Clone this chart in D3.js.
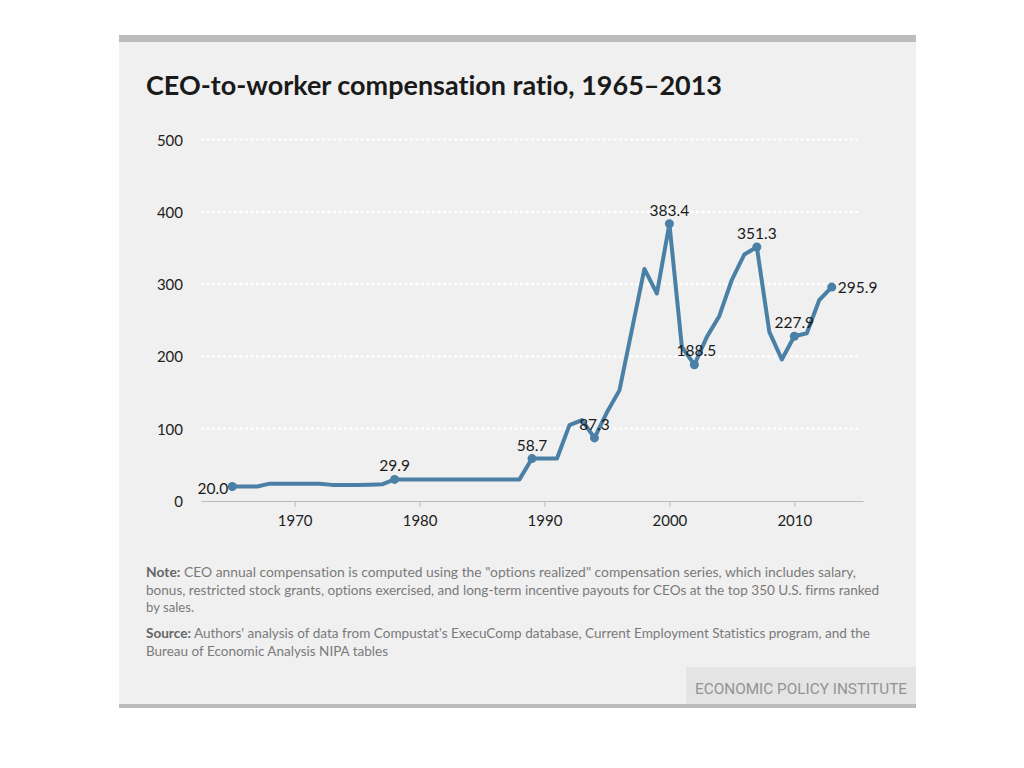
<!DOCTYPE html>
<html><head><meta charset="utf-8">
<script src="https://cdn.jsdelivr.net/npm/d3@7"></script>
<style>body{margin:0;background:#fff;} svg{display:block;} text{font-variant-ligatures:none;font-feature-settings:"liga" 0;}</style>
</head><body><svg id="c" width="1024" height="768"></svg>
<script>
const years = [1965,1966,1967,1968,1969,1970,1971,1972,1973,1974,1975,1976,1977,1978,1979,1980,1981,1982,1983,1984,1985,1986,1987,1988,1989,1990,1991,1992,1993,1994,1995,1996,1997,1998,1999,2000,2001,2002,2003,2004,2005,2006,2007,2008,2009,2010,2011,2012,2013];
const ratios = [20.0,20.0,20.0,24.0,24.0,24.0,24.0,24.0,22.3,22.3,22.3,22.5,23.0,29.9,29.9,29.9,29.9,29.9,29.9,29.9,29.9,29.9,29.9,29.9,58.7,58.7,58.7,105,112,87.3,122.6,153,237,321,287,383.4,213,188.5,227,256,306,341,351.3,234,195.8,227.9,232,278,295.9];
const labeledYears = [1965,1978,1989,1994,2000,2002,2007,2010,2013];
const yTicks = [0,100,200,300,400,500];
const xTicks = [1970,1980,1990,2000,2010];
const titleText = "CEO-to-worker compensation ratio, 1965–2013";
const noteLines = [
  ["Note:", " CEO annual compensation is computed using the \"options realized\" compensation series, which includes salary,"],
  ["", "bonus, restricted stock grants, options exercised, and long-term incentive payouts for CEOs at the top 350 U.S. firms ranked"],
  ["", "by sales."],
  ["Source:", " Authors' analysis of data from Compustat's ExecuComp database, Current Employment Statistics program, and the"],
  ["", "Bureau of Economic Analysis NIPA tables"]
];
const footerText = "ECONOMIC POLICY INSTITUTE";

const data = years.map((y,i)=>({year:y, value:ratios[i]}));
const svg = d3.select("#c");
const font = "Lato, 'Noto Sans', sans-serif";

// panel
svg.append("rect").attr("x",119).attr("y",35).attr("width",797).attr("height",673).attr("fill","#f0f0f0");
svg.append("rect").attr("x",119).attr("y",35).attr("width",797).attr("height",7).attr("fill","#bcbcbc");
svg.append("rect").attr("x",686).attr("y",667).attr("width",230).attr("height",37).attr("fill","#e4e4e4");
svg.append("rect").attr("x",119).attr("y",704).attr("width",797).attr("height",4).attr("fill","#bcbcbc");

svg.append("text").attr("x",146).attr("y",95).attr("font-family",font).attr("font-weight","bold")
  .attr("font-size",26).attr("fill","#1a1a1a").attr("textLength",576).attr("lengthAdjust","spacingAndGlyphs").text(titleText);

const x = d3.scaleLinear().domain([1962.5,2015.5]).range([201,863]);
const y = d3.scaleLinear().domain([0,500]).range([501,139.5]);

// grid
svg.append("g").selectAll("line").data(yTicks.filter(d=>d>0)).join("line")
  .attr("x1",201).attr("x2",860).attr("y1",d=>y(d)).attr("y2",d=>y(d))
  .attr("stroke","#fff").attr("stroke-width",2.2).attr("stroke-dasharray","3,2.5");

// y labels
svg.append("g").selectAll("text").data(yTicks).join("text")
  .attr("x",183).attr("y",d=>y(d)+6).attr("text-anchor","end")
  .attr("font-family",font).attr("font-size",15).attr("fill","#222").text(d=>d);

// x axis
const xAxis = d3.axisBottom(x).tickValues(xTicks).tickFormat(d3.format("d")).tickSize(6).tickSizeOuter(0);
const gx = svg.append("g").attr("transform","translate(0,501)").call(xAxis);
gx.select(".domain").attr("stroke","#bbb");
gx.selectAll(".tick line").attr("stroke","#bbb");
gx.selectAll(".tick text").attr("font-family",font).attr("font-size",15).attr("fill","#222").attr("dy","1.05em");

// line
const line = d3.line().x(d=>x(d.year)).y(d=>y(d.value));
svg.append("path").datum(data).attr("d",line).attr("fill","none")
  .attr("stroke","#4a80a6").attr("stroke-width",4).attr("stroke-linejoin","round").attr("stroke-linecap","round");

const lab = data.filter(d=>labeledYears.includes(d.year));
svg.append("g").selectAll("circle").data(lab).join("circle")
  .attr("cx",d=>x(d.year)).attr("cy",d=>y(d.value)).attr("r",4.5).attr("fill","#4a80a6");

const place = {1965:{a:"end",dx:-4,dy:7},2013:{a:"start",dx:6,dy:6},2002:{a:"middle",dx:2,dy:-9}};
svg.append("g").selectAll("text").data(lab).join("text")
  .attr("x",d=>x(d.year)+((place[d.year]||{}).dx||0))
  .attr("y",d=>y(d.value)+((place[d.year]||{}).dy||-8))
  .attr("text-anchor",d=>(place[d.year]||{}).a||"middle")
  .attr("font-family",font).attr("font-size",15.5).attr("fill","#1a1a1a")
  .text(d=>d.value.toFixed(1));

// notes
const noteY = [577,595,612,638,656];
const noteEnd = [856,879,194,870,388];
noteLines.forEach((ln,i)=>{
  const t = svg.append("text").attr("x",146).attr("y",noteY[i]).attr("font-family",font).attr("font-size",14).attr("fill","#7a7a7a")
    .attr("textLength",noteEnd[i]-146).attr("lengthAdjust","spacingAndGlyphs");
  if (ln[0]) t.append("tspan").attr("font-weight","bold").attr("fill","#666").text(ln[0]);
  t.append("tspan").text(ln[1]);
});

svg.append("text").attr("x",695).attr("y",694).attr("font-family","Roboto, sans-serif").attr("font-size",15.5)
  .attr("fill","#939393").attr("textLength",212).attr("lengthAdjust","spacingAndGlyphs").text(footerText);
</script></body></html>
